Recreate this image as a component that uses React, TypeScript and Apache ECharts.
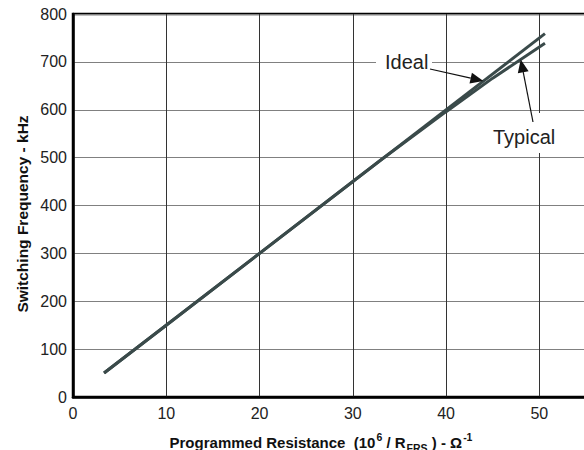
import React, { useEffect, useRef } from "react";
import * as echarts from "echarts";

const xTicks = [0, 10, 20, 30, 40, 50];
const idealX = [3.33, 50.6];
const idealY = [50, 759];
const typicalX = [3.33, 10, 20, 30, 33, 40, 45, 50.6];
const typicalY = [50, 150, 300, 450, 495, 596, 666, 739];
const idealTip = [44, 660];
const typicalTip = [48, 705];

const FONT = "'Liberation Sans', Arial, sans-serif";
const LINE = "#3a4a4a";

function arrow(sx: number, sy: number, tx: number, ty: number, len: number, hw: number) {
  const dx = tx - sx, dy = ty - sy;
  const d = Math.sqrt(dx * dx + dy * dy);
  const ux = dx / d, uy = dy / d;
  const bx = tx - ux * len, by = ty - uy * len;
  const px = -uy, py = ux;
  return [
    { type: "line", silent: true, z: 10, shape: { x1: sx, y1: sy, x2: bx, y2: by }, style: { stroke: "#111", lineWidth: 1.2 } },
    { type: "polygon", silent: true, z: 10, shape: { points: [[tx, ty], [bx + px * hw, by + py * hw], [bx - px * hw, by - py * hw]] }, style: { fill: "#111" } },
  ];
}

export default function App() {
  const ref = useRef<HTMLDivElement>(null);
  useEffect(() => {
    const chart = echarts.init(ref.current!, null, { renderer: "svg" });
    chart.setOption({
      animation: false,
      grid: {
        left: 73, width: 513, top: 14, bottom: 53, show: true, borderColor: "#000", borderWidth: 2.5,
        backgroundColor: "transparent", containLabel: false, outerBoundsMode: "none",
      },
      xAxis: {
        type: "value", min: 0, max: 55, interval: 10,
        axisLine: { show: true, lineStyle: { color: "#000", width: 2.5 } },
        axisTick: { show: false },
        axisLabel: { fontSize: 16, color: "#222", fontFamily: FONT, margin: 8, showMaxLabel: false, formatter: (v: number) => (xTicks.includes(v) ? String(v) : "") },
        splitLine: { show: true, lineStyle: { color: "#333", width: 1 } },
      },
      yAxis: {
        type: "value", min: 0, max: 800, interval: 100,
        axisLine: { show: true, lineStyle: { color: "#000", width: 2.5 } },
        axisTick: { show: false },
        axisLabel: { fontSize: 16, color: "#222", fontFamily: FONT, margin: 6 },
        splitLine: { show: true, lineStyle: { color: "#808080", width: 1.2 } },
      },
      series: [
        { name: "Ideal", type: "line", data: idealX.map((x, i) => [x, idealY[i]]), showSymbol: false, lineStyle: { color: LINE, width: 3 }, z: 3 },
        { name: "Typical", type: "line", data: typicalX.map((x, i) => [x, typicalY[i]]), showSymbol: false, lineStyle: { color: LINE, width: 3 }, z: 3 },
      ],
    });
    const it = chart.convertToPixel({ gridIndex: 0 }, idealTip) as number[];
    const tt = chart.convertToPixel({ gridIndex: 0 }, typicalTip) as number[];
    chart.setOption({
      graphic: [
        { type: "rect", silent: true, z: 5, shape: { x: 376, y: 50, width: 56, height: 24 }, style: { fill: "#fff" } },
        { type: "text", silent: true, z: 6, x: 385, y: 62, style: { text: "Ideal", font: `20px ${FONT}`, fill: "#222", verticalAlign: "middle", align: "left" } },
        ...arrow(430, 69, it[0], it[1], 13, 5.5),
        { type: "rect", silent: true, z: 5, shape: { x: 491, y: 113, width: 70, height: 40 }, style: { fill: "#fff" } },
        { type: "text", silent: true, z: 6, x: 493, y: 137, style: { text: "Typical", font: `20px ${FONT}`, fill: "#222", verticalAlign: "middle", align: "left" } },
        ...arrow(533, 122, tt[0], tt[1], 13, 5.5),
        {
          type: "text", silent: true, z: 6, x: 22, y: 214, rotation: Math.PI / 2,
          style: { text: "Switching Frequency - kHz", font: `bold 15.5px ${FONT}`, fill: "#111", align: "center", verticalAlign: "middle" },
        },
        {
          type: "text", silent: true, z: 6, x: 321, y: 442,
          style: {
            text: "{m|Programmed Resistance  (10}{sup|6}{m| / R}{sub|FRS}{m| ) - Ω}{sup|-1}",
            fill: "#111", align: "center", verticalAlign: "middle",
            rich: {
              m: { fontSize: 15, fontWeight: "bold", fontFamily: FONT, fill: "#111", verticalAlign: "middle", lineHeight: 22 },
              sup: { fontSize: 10.5, fontWeight: "bold", fontFamily: FONT, fill: "#111", verticalAlign: "top", lineHeight: 22, padding: [0, 0, 0, 1] },
              sub: { fontSize: 10.5, fontWeight: "bold", fontFamily: FONT, fill: "#111", verticalAlign: "bottom", lineHeight: 22, padding: [0, 0, 0, 1] },
            },
          },
        },
      ],
    });
    return () => chart.dispose();
  }, []);
  return <div ref={ref} style={{ width: 584, height: 450, position: "absolute", left: 0, top: 0 }} />;
}
